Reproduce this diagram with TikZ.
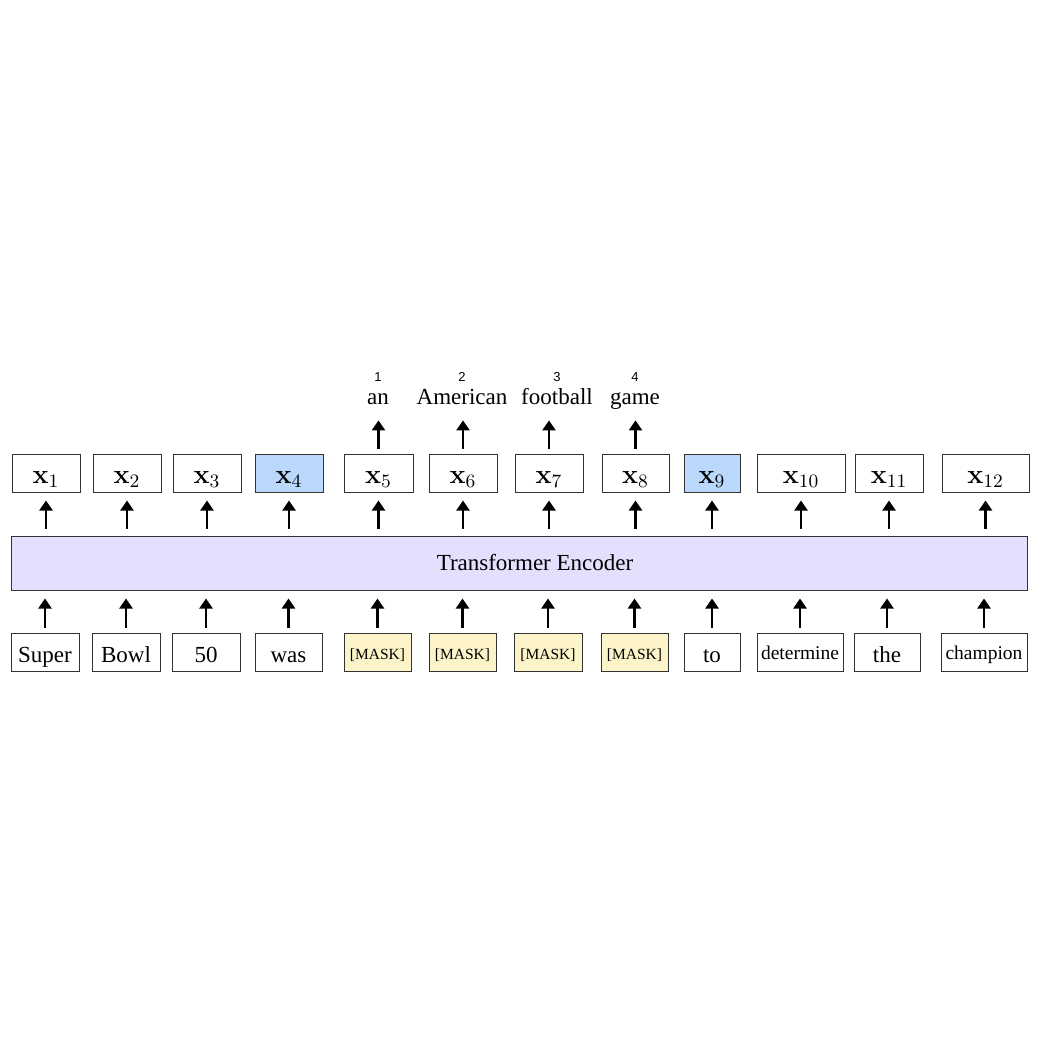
\RequirePackage{fix-cm}
\documentclass[tikz,border=0pt]{standalone}
\usepackage[no-math]{fontspec}
\setmainfont{Liberation Serif}
\newfontfamily\rankfont{Liberation Sans}
\usepackage{xcolor}
\usetikzlibrary{arrows.meta}

\definecolor{vecblue}{RGB}{185,216,251}
\definecolor{encpurple}{RGB}{229,222,252}
\definecolor{maskyellow}{RGB}{252,243,200}

\tikzset{
  box/.style={draw=black!80, line width=0.5pt, minimum width=34pt, minimum height=19pt, inner sep=0pt},
  vec/.style={box, text height=10pt, text depth=0pt, font=\fontsize{13.5}{14}\selectfont},
  tok/.style={box, text height=10pt, text depth=0pt, font=\fontsize{11.5}{12}\selectfont},
  smalltok/.style={box, text height=7pt, text depth=0pt, font=\fontsize{9.75}{10}\selectfont},
  masktok/.style={box, fill=maskyellow, text height=7pt, text depth=0pt, font=\fontsize{7.75}{8}\selectfont},
  word/.style={anchor=base, inner sep=0pt, text depth=0pt, font=\fontsize{11.5}{12}\selectfont},
  rank/.style={anchor=base, inner sep=0pt, font=\rankfont\fontsize{6.5}{7}\selectfont},
  up/.style={-{Triangle[width=6.5pt,length=5pt]}, line width=1.2pt},
}

\begin{document}
\begin{tikzpicture}[x=0.5pt, y=-0.5pt]
    \useasboundingbox (0,0) rectangle (1037,1037);

    % encoder
    \node[draw=black!80, line width=0.5pt, fill=encpurple, minimum width=508pt, minimum height=27pt, inner sep=0pt] (enc) at (519,563) {};
    \node[font=\fontsize{11.5}{12}\selectfont] (enclabel) at ([xshift=8pt]enc.center) {Transformer Encoder};

    % input tokens
    \node[tok] (t1) at (45,652) {Super};
    \node[tok] (t2) at (126,652) {Bowl};
    \node[tok] (t3) at (206,652) {50};
    \node[tok, minimum width=33.5pt] (t4) at (288.5,652) {was};
    \node[masktok, minimum width=33.5pt] (t5) at (377.5,652) {[MASK]};
    \node[masktok, minimum width=33.5pt] (t6) at (462.5,652) {[MASK]};
    \node[masktok] (t7) at (548,652) {[MASK]};
    \node[masktok, minimum width=33.5pt] (t8) at (634.5,652) {[MASK]};
    \node[tok, minimum width=28pt] (t9) at (712,652) {to};
    \node[smalltok, minimum width=43pt] (t10) at (800,652) {determine};
    \node[tok, minimum width=33pt] (t11) at (887,652) {the};
    \node[smalltok, minimum width=43pt] (t12) at (984,652) {champion};

    % output vectors
    \node[vec] (x1) at (46,473) {$\mathbf{x}_1$};
    \node[vec] (x2) at (127,473) {$\mathbf{x}_2$};
    \node[vec] (x3) at (207,473) {$\mathbf{x}_3$};
    \node[vec, fill=vecblue] (x4) at (289,473) {$\mathbf{x}_4$};
    \node[vec, minimum width=34.5pt] (x5) at (378.5,473) {$\mathbf{x}_5$};
    \node[vec] (x6) at (463,473) {$\mathbf{x}_6$};
    \node[vec] (x7) at (549,473) {$\mathbf{x}_7$};
    \node[vec, minimum width=33.5pt] (x8) at (635.5,473) {$\mathbf{x}_8$};
    \node[vec, fill=vecblue, minimum width=28pt] (x9) at (712,473) {$\mathbf{x}_9$};
    \node[vec, minimum width=44pt] (x10) at (801,473) {$\mathbf{x}_{10}$};
    \node[vec] (x11) at (889,473) {$\mathbf{x}_{11}$};
    \node[vec, minimum width=43.5pt] (x12) at (985.5,473) {$\mathbf{x}_{12}$};

    % predicted words
    \node[word] (an) at (378,404) {an};
    \node[word] (american) at (462,404) {American};
    \node[word] (football) at (557,404) {football};
    \node[word] (game) at (635,404) {game};
    \node[rank] (r1) at ([yshift=11.5pt]an.base) {1};
    \node[rank] (r2) at ([yshift=11.5pt]american.base) {2};
    \node[rank] (r3) at ([yshift=11.5pt]football.base) {3};
    \node[rank] (r4) at ([yshift=11.5pt]game.base) {4};

    % arrows
    \foreach \i in {1,...,12} {
        \draw[up, shorten <=2.5pt, shorten >=4pt] (t\i.north) -- (t\i.north |- enc.south);
        \draw[up, shorten <=3.5pt, shorten >=4pt] (enc.north -| x\i.south) -- (x\i.south);
    }
    \draw[up, shorten <=2.5pt, shorten >=8pt] (x5.north) -- (x5.north |- an.south);
    \draw[up, shorten <=2.5pt, shorten >=8pt] (x6.north) -- (x6.north |- american.south);
    \draw[up, shorten <=2.5pt, shorten >=8pt] (x7.north) -- (x7.north |- football.south);
    \draw[up, shorten <=2.5pt, shorten >=8pt] (x8.north) -- (x8.north |- game.south);

\end{tikzpicture}
\end{document}
